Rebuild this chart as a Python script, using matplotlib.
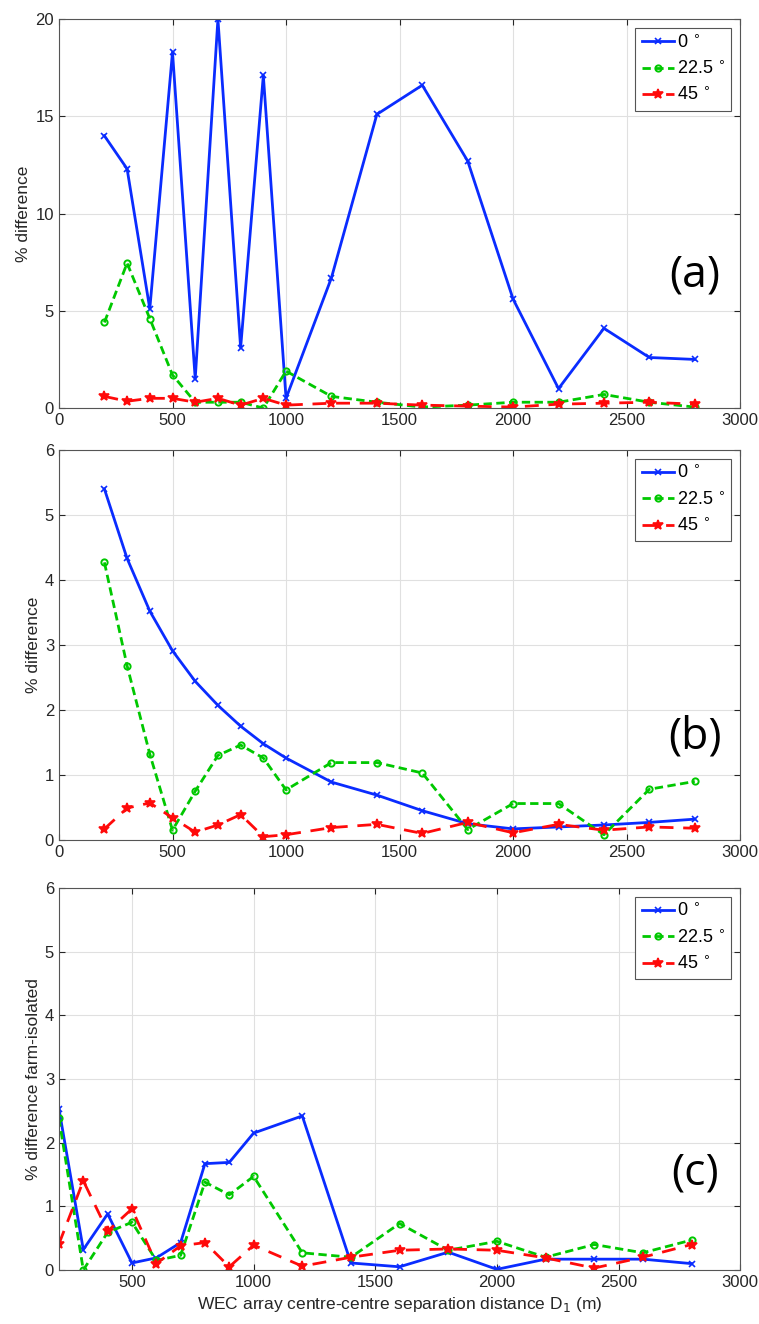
import matplotlib
matplotlib.use("Agg")
import matplotlib.pyplot as plt

plt.rcParams['font.family'] = ['Liberation Sans', 'DejaVu Sans']

# separation distance D1 (m)
dist = [200, 300, 400, 500, 600, 700, 800, 900, 1000, 1200, 1400, 1600, 1800, 2000, 2200, 2400, 2600, 2800]

# (a)
a_0 = [14.0, 12.3, 5.1, 18.3, 1.5, 20.0, 3.1, 17.1, 0.5, 6.7, 15.1, 16.6, 12.7, 5.6, 1.0, 4.1, 2.6, 2.5]
a_22 = [4.4, 7.45, 4.6, 1.7, 0.3, 0.3, 0.3, 0.0, 1.9, 0.6, 0.3, 0.05, 0.15, 0.3, 0.3, 0.7, 0.3, 0.05]
a_45 = [0.6, 0.35, 0.5, 0.5, 0.3, 0.5, 0.15, 0.5, 0.15, 0.25, 0.25, 0.15, 0.1, 0.05, 0.2, 0.25, 0.3, 0.2]

# (b)
b_0 = [5.4, 4.33, 3.52, 2.91, 2.44, 2.07, 1.75, 1.48, 1.26, 0.89, 0.69, 0.45, 0.25, 0.17, 0.2, 0.23, 0.27, 0.32]
b_22 = [4.27, 2.68, 1.32, 0.15, 0.75, 1.3, 1.46, 1.26, 0.77, 1.19, 1.19, 1.03, 0.16, 0.56, 0.56, 0.08, 0.78, 0.9]
b_45 = [0.17, 0.49, 0.57, 0.34, 0.12, 0.23, 0.39, 0.05, 0.08, 0.19, 0.24, 0.1, 0.27, 0.11, 0.24, 0.15, 0.2, 0.18]

# (c)
c_0 = [2.53, 0.32, 0.88, 0.11, 0.19, 0.43, 1.67, 1.69, 2.15, 2.42, 0.11, 0.05, 0.28, 0.01, 0.17, 0.17, 0.17, 0.1]
c_22 = [2.38, 0.0, 0.59, 0.75, 0.15, 0.23, 1.38, 1.18, 1.47, 0.27, 0.2, 0.73, 0.31, 0.45, 0.2, 0.4, 0.27, 0.47]
c_45 = [0.41, 1.4, 0.61, 0.96, 0.1, 0.38, 0.43, 0.05, 0.39, 0.06, 0.2, 0.31, 0.33, 0.31, 0.19, 0.03, 0.2, 0.4]

legendas = [r'0 $^{\circ}$', r'22.5 $^{\circ}$', r'45 $^{\circ}$']
azul = '#0a2cff'
verde = '#00c800'
vermelho = '#ff0a0a'
cinza = '#262626'

fig = plt.figure(figsize=(7.59, 13.24), dpi=100)

paineis = [
    (a_0, a_22, a_45, [0.0777, 0.6918, 0.8975, 0.2938], (0, 3000), (0, 20), [0, 500, 1000, 1500, 2000, 2500, 3000],
     [0, 5, 10, 15, 20], '% difference', '(a)', 0.342),
    (b_0, b_22, b_45, [0.0777, 0.3656, 0.8975, 0.2946], (0, 3000), (0, 6), [0, 500, 1000, 1500, 2000, 2500, 3000],
     [0, 1, 2, 3, 4, 5, 6], '% difference', '(b)', 0.264),
    (c_0, c_22, c_45, [0.0777, 0.0408, 0.8975, 0.2885], (200, 3000), (0, 6), [500, 1000, 1500, 2000, 2500, 3000],
     [0, 1, 2, 3, 4, 5, 6], '% difference farm-isolated', '(c)', 0.254),
]

for i, (s0, s22, s45, pos, xl, yl, xt, yt, ylab, letra, ly) in enumerate(paineis):
    ax = fig.add_axes(pos)
    ax.plot(dist, s0, color=azul, lw=2, marker='x', ms=4, mew=1.2, label=legendas[0])
    ax.plot(dist, s22, color=verde, lw=2, ls=(0, (3, 1.6)), marker='o', ms=4.5, mfc='none', mew=1.4,
            label=legendas[1])
    ax.plot(dist, s45, color=vermelho, lw=2, ls=(0, (5, 3.5)), marker='*', ms=7.5, mew=1.2, label=legendas[2])
    ax.set_xlim(*xl)
    ax.set_ylim(*yl)
    ax.set_xticks(xt)
    ax.set_yticks(yt)
    ax.grid(True, color='#e0e0e0', lw=0.8)
    ax.set_axisbelow(True)
    ax.tick_params(direction='in', top=True, right=True, labelsize=12, colors=cinza, length=4)
    for sp in ax.spines.values():
        sp.set_color('#555555')
        sp.set_linewidth(0.8)
    ax.set_ylabel(ylab, fontsize=12.5, color=cinza, labelpad=3)
    if i == 2:
        ax.set_xlabel(r'WEC array centre-centre separation distance D$_1$ (m)', fontsize=12.5, color=cinza)
    leg = ax.legend(loc='upper right', fontsize=13, numpoints=1, handlelength=1.8, fancybox=False,
                    framealpha=1, edgecolor='#555555', borderpad=0.35, labelspacing=0.5,
                    handletextpad=0.15, borderaxespad=0, bbox_to_anchor=(0.987, 0.977))
    leg.get_frame().set_linewidth(0.8)
    ax.text(0.934, ly, letra, transform=ax.transAxes, fontsize=32, ha='center', va='center',
            family=['Open Sans', 'DejaVu Sans'])

fig.savefig('out.png', dpi=100)
